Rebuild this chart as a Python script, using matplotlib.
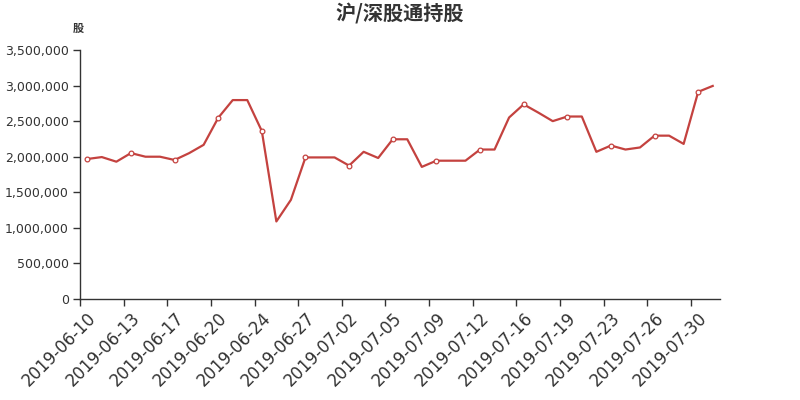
import matplotlib
matplotlib.use("Agg")
import matplotlib.pyplot as plt
from matplotlib.ticker import FuncFormatter

plt.rcParams['font.family'] = ['DejaVu Sans', 'Noto Sans CJK SC']

title = "沪/深股通持股"
unit = "股"

dates = [
    "2019-06-10", "2019-06-11", "2019-06-12", "2019-06-13", "2019-06-14", "2019-06-16",
    "2019-06-17", "2019-06-18", "2019-06-19", "2019-06-20", "2019-06-21", "2019-06-23",
    "2019-06-24", "2019-06-25", "2019-06-26", "2019-06-27", "2019-06-28", "2019-06-30",
    "2019-07-02", "2019-07-03", "2019-07-04", "2019-07-05", "2019-07-07", "2019-07-08",
    "2019-07-09", "2019-07-10", "2019-07-11", "2019-07-12", "2019-07-14", "2019-07-15",
    "2019-07-16", "2019-07-17", "2019-07-18", "2019-07-19", "2019-07-21", "2019-07-22",
    "2019-07-23", "2019-07-24", "2019-07-25", "2019-07-26", "2019-07-28", "2019-07-29",
    "2019-07-30", "2019-07-31",
]

holdings = [
    1968000, 1995000, 1930000, 2051000, 2000000, 2000000,
    1954000, 2050000, 2167000, 2546000, 2796000, 2796000,
    2361000, 1090000, 1394000, 1990000, 1990000, 1990000,
    1875000, 2069000, 1982000, 2245000, 2245000, 1857000,
    1944000, 1944000, 1944000, 2101000, 2101000, 2551000,
    2736000, 2621000, 2500000, 2565000, 2565000, 2069000,
    2157000, 2101000, 2130000, 2296000, 2296000, 2180000,
    2912000, 2995000,
]

label_step = 3
y_ticks = [0, 500000, 1000000, 1500000, 2000000, 2500000, 3000000, 3500000]

line_color = '#c4423f'
text_color = '#333333'

fig = plt.figure(figsize=(8, 4), dpi=100)
ax = fig.add_axes([0.1, 0.2525, 0.8, 0.6225])

x = list(range(len(dates)))
ax.plot(x, holdings, color=line_color, linewidth=1.6, marker='o', markevery=label_step,
        markersize=3.4, markerfacecolor='white', markeredgecolor=line_color,
        markeredgewidth=0.9, solid_joinstyle='round', zorder=3)

ax.set_xlim(-0.5, len(dates) - 0.5)
ax.set_ylim(y_ticks[0], y_ticks[-1])

# tick marks at category boundaries, labels at category centres
label_idx = list(range(0, len(dates), label_step))
ax.set_xticks([i - 0.5 for i in label_idx])
ax.set_xticklabels([])
ax.set_xticks(label_idx, minor=True)
ax.set_xticklabels([dates[i] for i in label_idx], minor=True, rotation=45,
                   ha='right', va='top', rotation_mode='anchor',
                   fontsize=12, color=text_color)
ax.tick_params(axis='x', which='major', length=5, width=1, color=text_color)
ax.tick_params(axis='x', which='minor', length=0, pad=7)

ax.set_yticks(y_ticks)
ax.yaxis.set_major_formatter(FuncFormatter(lambda v, p: f"{int(v):,}"))
ax.tick_params(axis='y', length=5, width=1, color=text_color, labelsize=9,
               labelcolor=text_color, pad=3)

for side in ['top', 'right']:
    ax.spines[side].set_visible(False)
for side in ['left', 'bottom']:
    ax.spines[side].set_color(text_color)
    ax.spines[side].set_linewidth(1)

fig.text(0.5, 0.965, title, ha='center', va='center', fontsize=14.5, fontweight='bold',
         color=text_color, family=['Noto Sans CJK SC', 'DejaVu Sans'])
fig.text(0.098, 0.928, unit, ha='center', va='center', fontsize=8, fontweight='bold',
         color=text_color, family=['Noto Sans CJK SC', 'DejaVu Sans'])

fig.savefig('out.png', dpi=100, facecolor='white')
